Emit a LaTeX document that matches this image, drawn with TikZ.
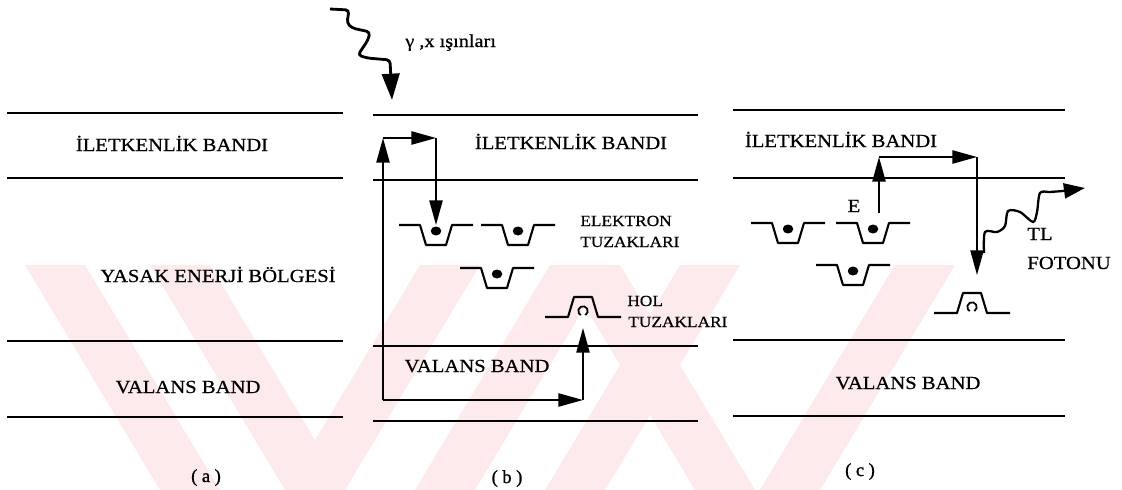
\documentclass[tikz,border=0pt]{standalone}
\usepackage{fontspec}
\setmainfont{Liberation Serif}
\newfontfamily\lblfont{Liberation Serif}[FakeStretch=1.12,FakeBold=0.6]
\newfontfamily\parfont{Liberation Serif}[FakeBold=1.2]
\usetikzlibrary{arrows.meta,calc}
\definecolor{wm}{RGB}{253,234,236}
\begin{document}
\begin{tikzpicture}[x=0.02cm,y=-0.02cm,
  band/.style={line width=1.2pt},
  arr/.style={line width=1pt,-{Triangle[length=14pt,width=7.5pt]}},
  big/.style={font=\lblfont\fontsize{10.5}{12}\selectfont, inner sep=0pt, anchor=base},
  small/.style={font=\lblfont\fontsize{8.8}{10}\selectfont, inner sep=0pt, anchor=base west},
  plab/.style={font=\parfont\fontsize{10.5}{12}\selectfont, inner sep=0pt, anchor=base},
  trapline/.style={line width=1.2pt, line join=round},
  pics/etrap/.style={code={
     \draw[trapline] (-37,0) -- (-16,0) -- (-10,20) -- (10,20) -- (16,0) -- (37,0);
     \fill (0,6) ellipse [x radius=0.105cm, y radius=0.09cm];
     \coordinate (-c) at (0,0);
  }},
  pics/htrap/.style={code={
     \draw[trapline] (-38,0) -- (-15,0) -- (-9,-20) -- (9,-20) -- (15,0) -- (38,0);
     \draw[line width=1pt] (0,-6) ++(-60:0.095cm) arc[start angle=-60,end angle=240,radius=0.095cm];
     \coordinate (-c) at (0,0);
  }}
]
\useasboundingbox (0,0) rectangle (1122,490);
% watermark
\begin{scope}
\clip (0,265) rectangle (1122,490);
\foreach \t in {25,150,560} {
  \fill[wm] (\t,265) -- (\t+60,265) -- (\t+195,490) -- (\t+135,490) -- cycle;
}
\foreach \b in {285,415,545,760} {
  \fill[wm] (\b,490) -- (\b+60,490) -- (\b+195,265) -- (\b+135,265) -- cycle;
}
\end{scope}
% panel (a)
\draw[band] (7,113) -- (343,113);
\draw[band] (7,178) -- (343,178);
\draw[band] (7,341) -- (343,341);
\draw[band] (7,417) -- (343,417);
\node[big] (a1) at (172,151) {İLETKENLİK BANDI};
\node[big] (a2) at (218,282) {YASAK ENERJİ BÖLGESİ};
\node[big] (a3) at (188,393) {VALANS BAND};
\node[plab] (la) at (206,482) {( a )};
% panel (b)
\draw[band] (373,115) -- (698,115);
\draw[band] (373,180) -- (698,180);
\draw[band] (373,346) -- (698,346);
\draw[band] (373,421) -- (698,421);
\node[big] (b1t) at (571,149) {İLETKENLİK BANDI};
\node[big] (b2t) at (477,372) {VALANS BAND};
\node[small] (el1) at (580,226) {ELEKTRON};
\node[small] (el2) at (580,247) {TUZAKLARI};
\node[small] (ho1) at (627,306) {HOL};
\node[small] (ho2) at (628,327) {TUZAKLARI};
\node[plab] (lb) at (507,483) {( b )};
\pic (b1) at (436,225) {etrap};
\pic (b2) at (518,225) {etrap};
\pic (b3) at (497,268) {etrap};
\pic (hb) at (583,317) {htrap};
\coordinate (bl) at (383,400);
\coordinate (tl) at (383,138);
\coordinate (tr) at (436,138);
\coordinate (br) at (583,400);
\coordinate (hbt) at (583,328);
\draw[arr] (bl) -- (tl);
\draw[arr] (tl) -- (tr);
\draw[arr] (tr) -- (b1-c);
\draw[arr] (bl) -- (br);
\draw[arr] (br) -- (hbt);
% gamma rays
\coordinate (g0) at (330,9);
\coordinate (g1) at (392,100);
\draw[line width=1.6pt, rounded corners=2pt, -{Triangle[length=15pt,width=10pt]}]
  (g0) -- (349,10) -- (347,23) -- (352,28) -- (370,32) -- (368,40) -- (358,55) -- (367,58) -- (390,60) -- (g1);
\node[font=\lblfont\fontsize{10.3}{12}\selectfont, inner sep=0pt, anchor=base west] (gl) at (405,47) {γ ,x ışınları};
% panel (c)
\draw[band] (733,110) -- (1065,110);
\draw[band] (733,178) -- (1065,178);
\draw[band] (733,340) -- (1065,340);
\draw[band] (733,416) -- (1065,416);
\node[big] (c1t) at (841,147) {İLETKENLİK BANDI};
\node[big] (c3t) at (908,389) {VALANS BAND};
\node[big] (et) at (854,212) {E};
\node[big, anchor=base west] (tl1) at (1027,240) {TL};
\node[big, anchor=base west] (tl2) at (1027,269) {FOTONU};
\node[plab] (lc) at (860,476) {( c )};
\pic (c1) at (788,223) {etrap};
\pic (c2) at (873,223) {etrap};
\pic (c3) at (853,265) {etrap};
\pic (hc) at (972,313) {htrap};
\coordinate (eu) at (879,213);
\coordinate (eu2) at (879,157);
\coordinate (ed) at (977,157);
\coordinate (edt) at (977,275);
\draw[arr] (eu) -- (eu2);
\draw[arr] (eu2) -- (ed);
\draw[arr] (ed) -- (edt);
% TL photon
\coordinate (p0) at (984,253);
\coordinate (p1) at (1085,188);
\draw[line width=1.3pt, -{Triangle[length=12pt,width=8.5pt]}]
  plot[smooth, tension=0.5] coordinates {(984,253) (985,232) (997,232) (1005,226) (1008,211) (1020,212) (1033,222) (1037,212) (1040,193) (1050,192) (1063,191)} -- (p1);
\end{tikzpicture}
\end{document}
